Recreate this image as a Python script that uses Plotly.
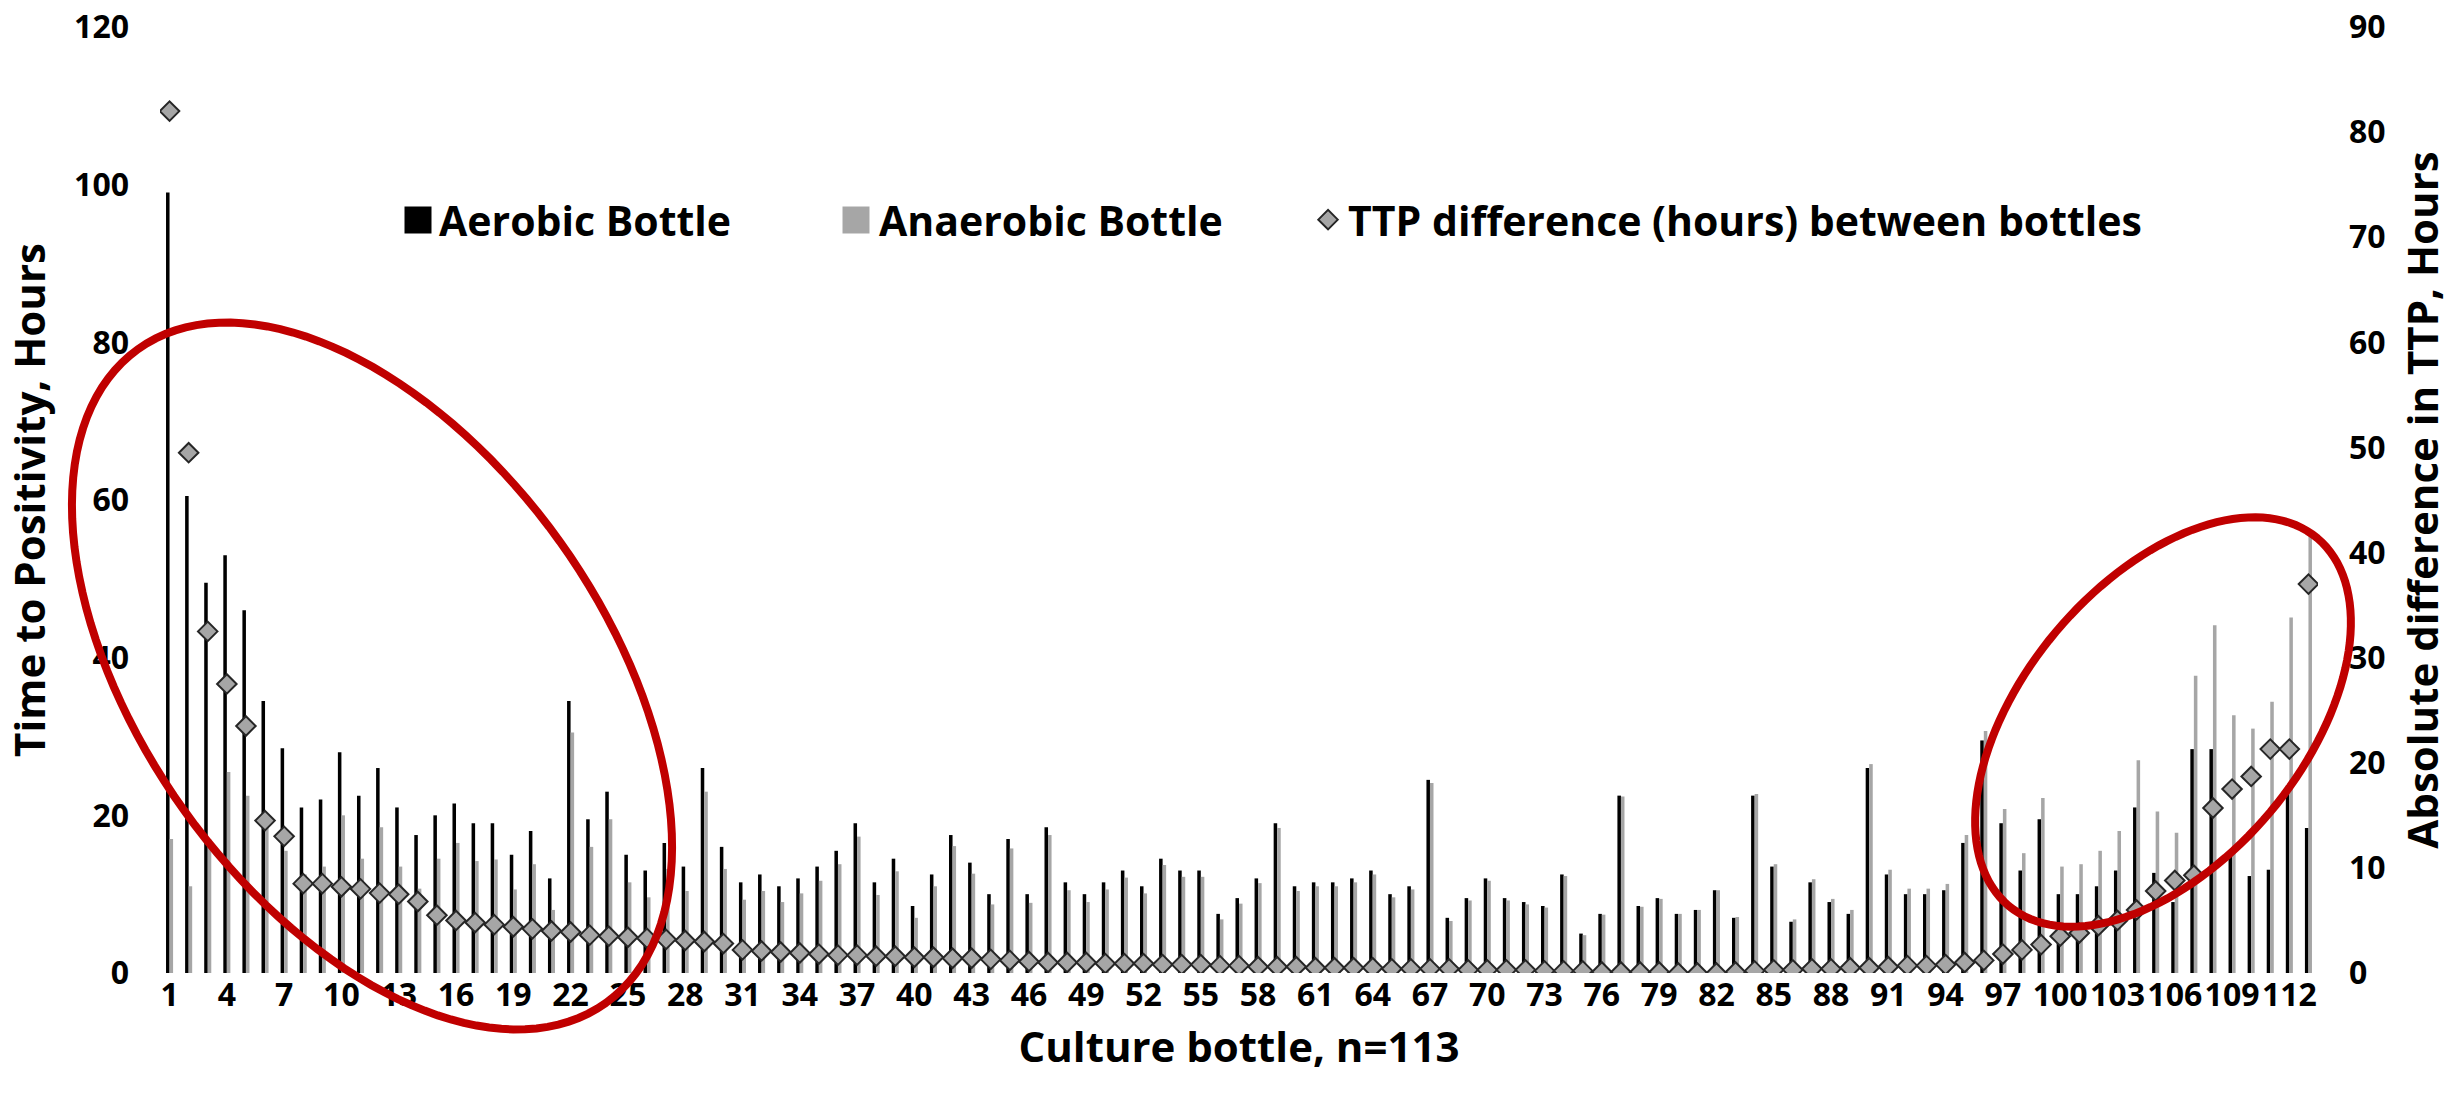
import math
import plotly.graph_objects as go

# ---------------- data ----------------
bottles = list(range(1, 114))

aerobic = [
    99, 60.5, 49.5, 53, 46, 34.5, 28.5, 21, 22, 28,
    22.5, 26, 21, 17.5, 20, 21.5, 19, 19, 15, 18,
    12, 34.5, 19.5, 23, 15, 13, 16.5, 13.5, 26, 16,
    11.5, 12.5, 11, 12, 13.5, 15.5, 19, 11.5, 14.5, 8.5,
    12.5, 17.5, 14, 10, 17, 10, 18.5, 11.5, 10, 11.5,
    13, 11, 14.5, 13, 13, 7.5, 9.5, 12, 19, 11,
    11.5, 11.5, 12, 13, 10, 11, 24.5, 7, 9.5, 12,
    9.5, 9, 8.5, 12.5, 5, 7.5, 22.5, 8.5, 9.5, 7.5,
    8, 10.5, 7, 22.5, 13.5, 6.5, 11.5, 9, 7.5, 26,
    12.5, 10, 10, 10.5, 16.5, 29.5, 19, 13, 19.5, 10,
    10, 11, 13, 21, 12.7, 9, 28.4, 28.4, 15.2, 12.3,
    13.1, 23.8, 18.4,
]

anaerobic = [
    17, 11, 17, 25.5, 22.5, 20, 15.5, 12.5, 13.5, 20,
    14.5, 18.5, 13.5, 10.7, 14.5, 16.5, 14.2, 14.4, 10.6, 13.8,
    8, 30.5, 16, 19.5, 11.5, 9.6, 13.2, 10.4, 23, 13.2,
    9.3, 10.4, 9, 10.1, 11.7, 13.8, 17.3, 9.9, 12.9, 7,
    11, 16.1, 12.6, 8.7, 15.8, 8.9, 17.5, 10.5, 9, 10.6,
    12.1, 10.1, 13.7, 12.2, 12.2, 6.8, 8.8, 11.4, 18.4, 10.4,
    11, 11, 11.5, 12.5, 9.6, 10.6, 24.1, 6.6, 9.2, 11.7,
    9.2, 8.7, 8.3, 12.3, 4.8, 7.4, 22.4, 8.4, 9.4, 7.5,
    8, 10.5, 7.1, 22.7, 13.8, 6.8, 11.9, 9.4, 8, 26.5,
    13.1, 10.7, 10.7, 11.3, 17.5, 30.7, 20.8, 15.2, 22.2, 13.5,
    13.8, 15.5, 18, 27, 20.5, 17.8, 37.7, 44.1, 32.7, 31,
    34.4, 45.1, 55.4,
]

ttp_diff = [
    82, 49.5, 32.5, 27.5, 23.5, 14.5, 13, 8.5, 8.5, 8.2,
    8, 7.6, 7.5, 6.8, 5.5, 5, 4.8, 4.6, 4.4, 4.2,
    4, 3.9, 3.6, 3.5, 3.4, 3.3, 3.2, 3.1, 3.0, 2.8,
    2.2, 2.1, 2.0, 1.9, 1.8, 1.7, 1.7, 1.6, 1.6, 1.5,
    1.5, 1.4, 1.4, 1.3, 1.2, 1.1, 1.0, 1.0, 1.0, 0.9,
    0.9, 0.9, 0.8, 0.8, 0.8, 0.7, 0.7, 0.6, 0.6, 0.6,
    0.5, 0.5, 0.5, 0.5, 0.4, 0.4, 0.4, 0.4, 0.3, 0.3,
    0.3, 0.3, 0.2, 0.2, 0.2, 0.1, 0.1, 0.1, 0.1, 0.0,
    0.0, 0.0, 0.1, 0.2, 0.3, 0.3, 0.4, 0.4, 0.5, 0.5,
    0.6, 0.7, 0.7, 0.8, 1.0, 1.2, 1.8, 2.2, 2.7, 3.5,
    3.8, 4.5, 5.0, 6.0, 7.8, 8.8, 9.3, 15.7, 17.5, 18.7,
    21.3, 21.3, 37.0,
]

x_tick_vals = [1, 4, 7, 10, 13, 16, 19, 22, 25, 28, 31, 34, 37, 40, 43, 46, 49, 52, 55,
               58, 61, 64, 67, 70, 73, 76, 79, 82, 85, 88, 91, 94, 97, 100, 103, 106, 109, 112]
x_tick_text = [str(v) for v in x_tick_vals]

# ---------------- layout constants ----------------
W, H = 2463, 1106
PL, PR, PT, PB = 160, 2318, 27, 973   # plot area in pixels
FONT = "Open Sans"
BLACK, GREY, RED = "#000000", "#A6A6A6", "#C00000"
LEG_Y_PX = 220            # vertical centre of legend row
LEG_X_PX = 399            # left edge of first legend
LEG_STEP = 438            # distance between first two legend entries
SWATCH = 27               # legend square size


def to_paper(px, py):
    return (px - PL) / (PR - PL), (PB - py) / (PB - PT)


def ellipse_path(cx, cy, a, b, theta_deg, n=140):
    th = math.radians(theta_deg)
    pts = []
    for i in range(n + 1):
        t = 2 * math.pi * i / n
        x = cx + a * math.cos(t) * math.cos(th) - b * math.sin(t) * math.sin(th)
        y = cy + a * math.cos(t) * math.sin(th) + b * math.sin(t) * math.cos(th)
        pts.append(to_paper(x, y))
    return "M " + " L ".join(f"{p[0]:.5f},{p[1]:.5f}" for p in pts) + " Z"


def swatch(cx, color):
    x0, y0 = to_paper(cx - SWATCH / 2, LEG_Y_PX + SWATCH / 2)
    x1, y1 = to_paper(cx + SWATCH / 2, LEG_Y_PX - SWATCH / 2)
    return dict(type="rect", xref="paper", yref="paper", x0=x0, y0=y0, x1=x1, y1=y1,
                fillcolor=color, line=dict(width=0), layer="above")


fig = go.Figure()
fig.add_trace(go.Bar(x=bottles, y=aerobic, name="Aerobic Bottle", legendgroup="aer",
                     showlegend=False, marker=dict(color=BLACK, line=dict(width=0))))
fig.add_trace(go.Bar(x=bottles, y=anaerobic, name="Anaerobic Bottle", legendgroup="ana",
                     showlegend=False, marker=dict(color=GREY, line=dict(width=0))))
fig.add_trace(go.Scatter(x=bottles, y=ttp_diff, name="TTP difference (hours) between bottles",
                         mode="markers", yaxis="y2", legend="legend2",
                         marker=dict(symbol="diamond", size=15, color=GREY,
                                     line=dict(color="#262626", width=2))))
# legend entries for the bars (their square keys are drawn as shapes below)
fig.add_trace(go.Scatter(x=[None], y=[None], mode="markers", name="Aerobic Bottle",
                         legendgroup="aer",
                         marker=dict(symbol="square", size=1, color="rgba(0,0,0,0)")))
fig.add_trace(go.Scatter(x=[None], y=[None], mode="markers", name="Anaerobic Bottle",
                         legendgroup="ana",
                         marker=dict(symbol="square", size=1, color="rgba(0,0,0,0)")))

tick_font = dict(family=FONT, size=32, color=BLACK, weight="bold")
title_font = dict(family=FONT, size=42, color=BLACK, weight="bold")
legend_font = dict(family=FONT, size=41, color=BLACK, weight="bold")

leg_y = to_paper(0, LEG_Y_PX)[1]

fig.update_layout(
    width=W, height=H,
    margin=dict(l=PL, r=W - PR, t=PT, b=H - PB),
    paper_bgcolor="white", plot_bgcolor="white",
    barmode="group", bargap=0.63, bargroupgap=0,
    showlegend=True,
    legend=dict(orientation="h", x=to_paper(LEG_X_PX, 0)[0], y=leg_y,
                xanchor="left", yanchor="middle",
                font=legend_font, entrywidth=395, itemwidth=30, bgcolor="rgba(0,0,0,0)"),
    legend2=dict(orientation="h", x=0.532, y=leg_y, xanchor="left", yanchor="middle",
                 font=legend_font, itemwidth=30, bgcolor="rgba(0,0,0,0)"),
    xaxis=dict(range=[0.5, 113.5], tickmode="array", tickvals=x_tick_vals, ticktext=x_tick_text,
               tickfont=tick_font, showgrid=False, zeroline=False, showline=False, ticks="",
               automargin=False,
               title=dict(text="Culture bottle, n=113", font=title_font, standoff=18)),
    yaxis=dict(range=[0, 120], dtick=20, tickfont=tick_font, showgrid=False, zeroline=False,
               showline=False, ticks="", ticklabelstandoff=30, automargin=False,
               title=dict(text="Time to Positivity, Hours", font=title_font, standoff=26)),
    yaxis2=dict(range=[0, 90], dtick=10, overlaying="y", side="right", tickfont=tick_font,
                showgrid=False, zeroline=False, showline=False, ticks="",
                ticklabelstandoff=30, automargin=False,
                title=dict(text="Absolute difference in TTP, Hours", font=title_font, standoff=24)),
    shapes=[
        dict(type="path", xref="paper", yref="paper",
             path=ellipse_path(372, 676, 402, 231, 54.4),
             line=dict(color=RED, width=8), fillcolor="rgba(0,0,0,0)", layer="above"),
        dict(type="path", xref="paper", yref="paper",
             path=ellipse_path(2163, 722, 240, 140, -50),
             line=dict(color=RED, width=8), fillcolor="rgba(0,0,0,0)", layer="above"),
        swatch(LEG_X_PX + 19, BLACK),
        swatch(LEG_X_PX + 19 + LEG_STEP, GREY),
    ],
)

fig.write_html("out.html")
